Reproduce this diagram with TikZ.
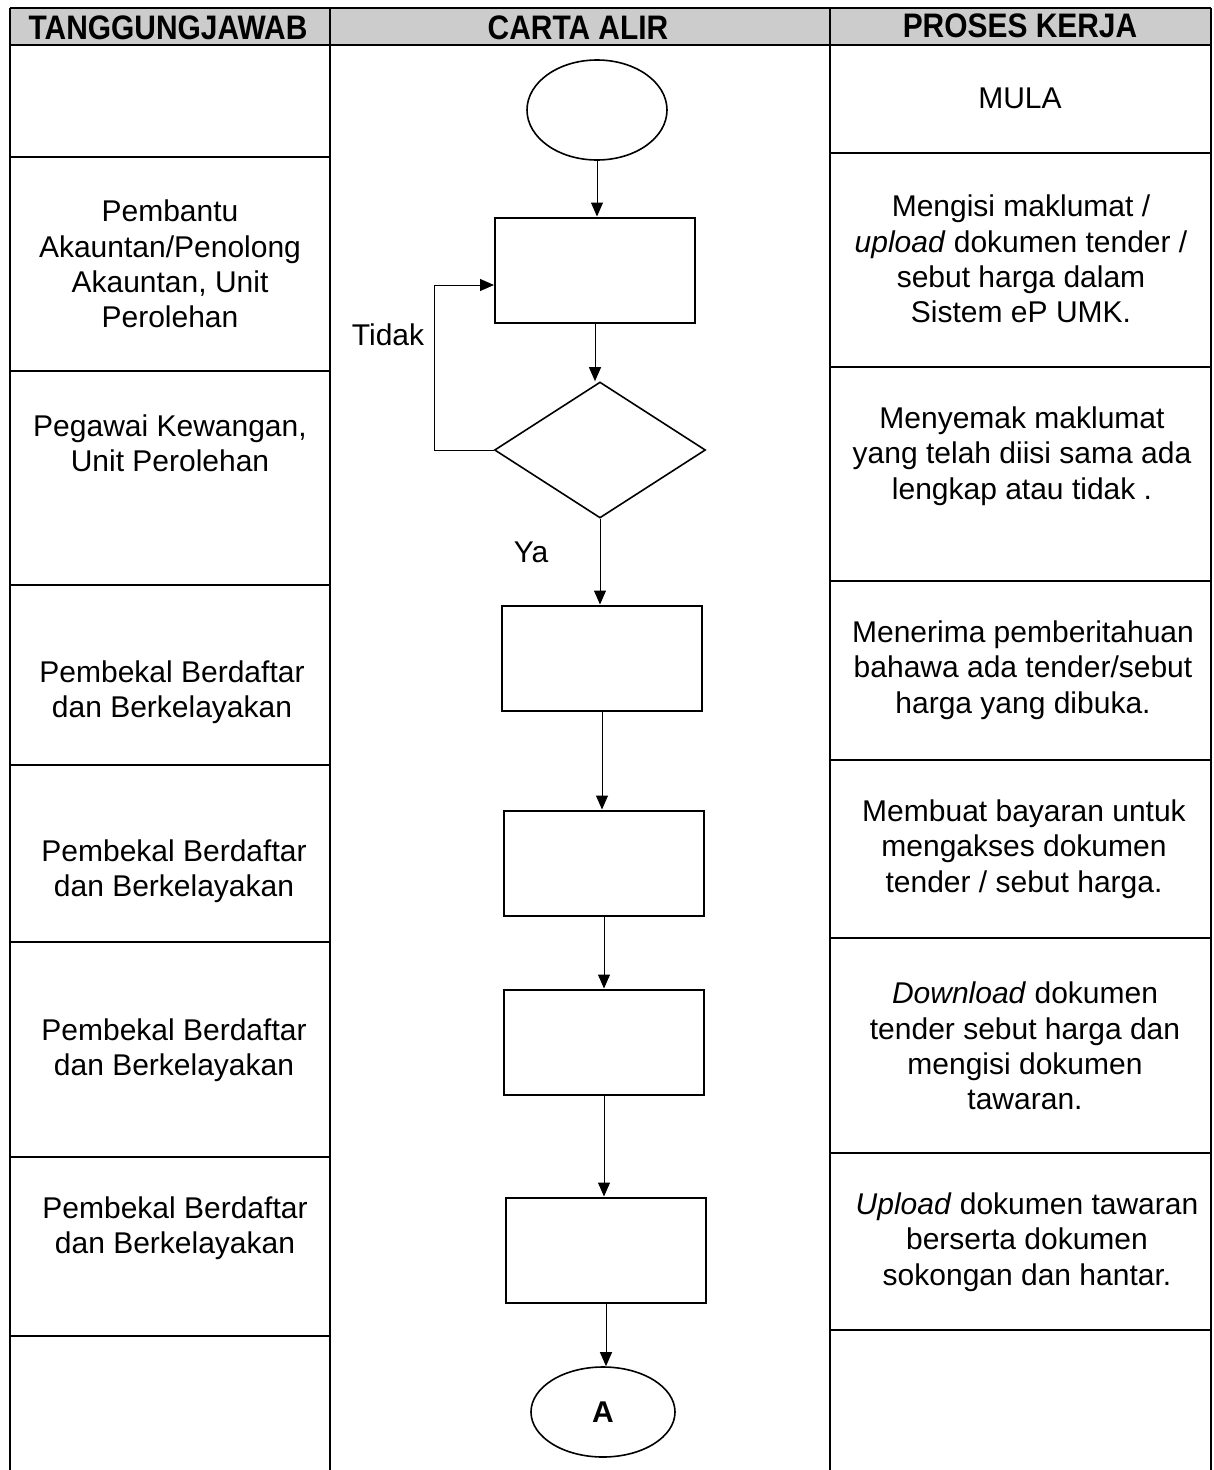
\documentclass[tikz,border=0pt]{standalone}
\usepackage{fontspec}
\setmainfont{Liberation Sans}
\usetikzlibrary{positioning,shapes.geometric,arrows.meta}
\newcommand{\headlabel}[1]{\scalebox{0.88}[1]{#1}}
\tikzset{
    tableline/.style={line width=1.6pt,black},
    flowbox/.style={draw,line width=2pt,minimum width=200pt,minimum height=105pt,inner sep=0pt},
    decision/.style={diamond,draw,line width=1.6pt,minimum width=211pt,minimum height=136pt,inner sep=0pt},
    terminal/.style={ellipse,draw,line width=1.6pt,inner sep=0pt},
    % arrows between the boxes
    flowarrow/.style={line width=1pt,-{Triangle[length=14pt,width=12pt]}},
    celltext/.style={align=center,font=\fontsize{30}{35.3}\selectfont},
    headtext/.style={font=\fontsize{34}{34}\selectfont\bfseries}
}

\begin{document}
\begin{tikzpicture}[x=1pt,y=-1pt]
        \useasboundingbox (0,0) rectangle (1214,1470);

        % table
        \fill[gray!40] (10,8) rectangle (1211,45);
        \draw[tableline] (10,8) -- (1211,8);
        \draw[tableline] (10,45) -- (1211,45);
        \foreach \x in {10,330,830,1211}
            \draw[tableline] (\x,8) -- (\x,1470);
        \foreach \y in {157,371,585,765,942,1157,1336}
            \draw[tableline] (10,\y) -- (330,\y);
        \foreach \y in {153,367,581,760,938,1153,1330}
            \draw[tableline] (830,\y) -- (1211,\y);

        \node[headtext] (h1) at (168,28) {\headlabel{TANGGUNGJAWAB}};
        \node[headtext] (h2) at (578,28) {\headlabel{CARTA ALIR}};
        \node[headtext] (h3) at (1020,26) {\headlabel{PROSES KERJA}};

        % tanggungjawab
        \node[celltext] (t1) at (170,264) {Pembantu\\Akauntan/Penolong\\Akauntan, Unit\\Perolehan};
        \node[celltext] (t2) at (170,443) {Pegawai Kewangan,\\Unit Perolehan};
        \node[celltext] (t3) at (172,692) {Pembekal Berdaftar\\dan Berkelayakan};
        \node[celltext] (t4) at (174,871) {Pembekal Berdaftar\\dan Berkelayakan};
        \node[celltext] (t5) at (174,1050) {Pembekal Berdaftar\\dan Berkelayakan};
        \node[celltext] (t6) at (175,1228) {Pembekal Berdaftar\\dan Berkelayakan};

        % proses kerja
        \node[celltext] (p0) at (1020,98) {MULA};
        \node[celltext] (p1) at (1021,259) {Mengisi maklumat /\\\textit{upload} dokumen tender /\\sebut harga dalam\\Sistem eP UMK.};
        \node[celltext] (p2) at (1022,456) {Menyemak maklumat\\yang telah diisi sama ada\\lengkap atau tidak .};
        \node[celltext] (p3) at (1023,670) {Menerima pemberitahuan\\bahawa ada tender/sebut\\harga yang dibuka.};
        \node[celltext] (p4) at (1024,849) {Membuat bayaran untuk\\mengakses dokumen\\tender / sebut harga.};
        \node[celltext] (p5) at (1025,1046) {\textit{Download} dokumen\\tender sebut harga dan\\mengisi dokumen\\tawaran.};
        \node[celltext] (p6) at (1027,1242) {\textit{Upload} dokumen tawaran\\berserta dokumen\\sokongan dan hantar.};

        % carta alir
        \node[terminal,minimum width=140pt,minimum height=100pt] (start) at (597,110) {};
        \node[flowbox] (b1) at (595,270) {};
        \node[decision] (dec) at (600,450) {};
        \node[flowbox] (b2) at (602,658) {};
        \node[flowbox] (b3) at (604,863) {};
        \node[flowbox] (b4) at (604,1042) {};
        \node[flowbox] (b5) at (606,1250) {};
        \node[terminal,minimum width=144pt,minimum height=90pt,font=\fontsize{30}{30}\selectfont\bfseries] (endA) at (603,1412) {A};

        \draw[flowarrow] (start.south) -- (start.south |- b1.north);
        \draw[flowarrow] (b1.south) -- (b1.south |- dec.north);
        \draw[flowarrow] (dec.south) -- (dec.south |- b2.north);
        \draw[flowarrow] (b2.south) -- (b2.south |- b3.north);
        \draw[flowarrow] (b3.south) -- (b3.south |- b4.north);
        \draw[flowarrow] (b4.south) -- (b4.south |- b5.north);
        \draw[flowarrow] (b5.south) -- (b5.south |- endA.north);
        \draw[flowarrow] (dec.west) -- ++(-59,0) |- ([yshift=-15pt]b1.west);

        \node[celltext] (no) at (388,335) {Tidak};
        \node[celltext] (yes) at (531,552) {Ya};

\end{tikzpicture}
\end{document}
